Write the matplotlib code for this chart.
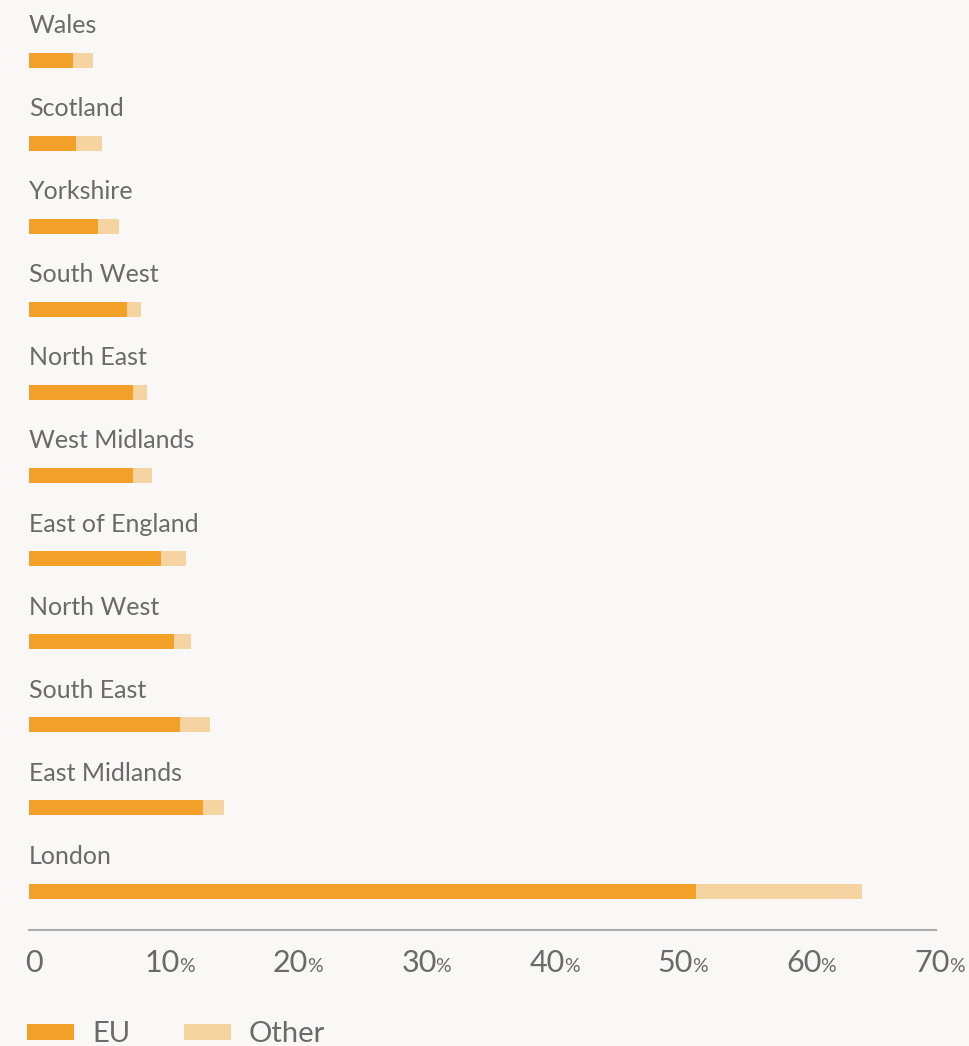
import matplotlib
matplotlib.use("Agg")
import matplotlib.pyplot as plt
import matplotlib.transforms as mtransforms

plt.rcParams["font.family"] = ["Lato", "DejaVu Sans"]

# Share of workers born abroad, by region (percent)
regions = ["Wales", "Scotland", "Yorkshire", "South West", "North East",
           "West Midlands", "East of England", "North West", "South East",
           "East Midlands", "London"]
eu = [3.4, 3.7, 5.4, 7.6, 8.1, 8.1, 10.3, 11.3, 11.8, 13.6, 52.0]
other = [1.6, 2.0, 1.6, 1.1, 1.1, 1.5, 1.9, 1.3, 2.3, 1.6, 12.9]
ticks = [0, 10, 20, 30, 40, 50, 60, 70]

EU_COLOR = "#F2A027"
OTHER_COLOR = "#F6D4A1"
TEXT_COLOR = "#6A6A6A"
BG = "#F9F8F6"

W, H = 969, 1046
fig = plt.figure(figsize=(W / 100, H / 100), dpi=100, facecolor=BG)

# axes placed in pixel terms: left edge = zero line, bottom = axis line
left_px, right_px, axis_px, top_px = 29, 936, 930, 0
ax = fig.add_axes([left_px / W, 1 - axis_px / H,
                   (right_px - left_px) / W, (axis_px - top_px) / H])
ax.set_facecolor(BG)

px_per_pct = 12.83
row_px = 83.1
first_row_px = 60
ax.set_xlim(0, (right_px - left_px) / px_per_pct)
ax.set_ylim((axis_px - first_row_px) / row_px, -first_row_px / row_px)

ypos = list(range(len(regions)))
bar_h = 15 / row_px
b1 = ax.barh(ypos, eu, height=bar_h, color=EU_COLOR, label="EU")
b2 = ax.barh(ypos, other, left=eu, height=bar_h, color=OTHER_COLOR, label="Other")

PT = 0.72  # points per pixel at dpi=100
for y, name in zip(ypos, regions):
    ax.annotate(name, xy=(0, y), xytext=(0, 27 * PT), textcoords="offset points",
                ha="left", va="baseline", fontsize=18, color=TEXT_COLOR)

for s in ["top", "right", "left"]:
    ax.spines[s].set_visible(False)
ax.spines["bottom"].set_color("#ABABAB")
ax.spines["bottom"].set_linewidth(1.5)
ax.set_xticks([])
ax.set_yticks([])

# tick labels: number with a smaller percent sign
blend = mtransforms.blended_transform_factory(ax.transData, ax.transAxes)
for t in ticks:
    num = ax.annotate(f"{t}", xy=(t, 0), xycoords=blend,
                      xytext=(5 * PT, -42 * PT), textcoords="offset points",
                      ha="center", va="baseline", fontsize=22, color=TEXT_COLOR,
                      annotation_clip=False)
    if t != 0:
        ax.annotate("%", xy=(1, 0), xycoords=num,
                    xytext=(-0.8, 1.2), textcoords="offset points",
                    ha="left", va="bottom", fontsize=14, color=TEXT_COLOR,
                    annotation_clip=False)

fs_leg = 21
em = fs_leg / PT
leg = fig.legend(handles=[b1, b2], labels=["EU", "Other"], ncol=2,
                 loc="lower left", bbox_to_anchor=(27 / W, -1 / H),
                 frameon=False, fontsize=fs_leg, borderpad=0, borderaxespad=0,
                 handlelength=47 / em, handleheight=14 / em,
                 handletextpad=18 / em, columnspacing=54 / em)
for txt in leg.get_texts():
    txt.set_color(TEXT_COLOR)

fig.savefig("out.png", dpi=100, facecolor=BG)
